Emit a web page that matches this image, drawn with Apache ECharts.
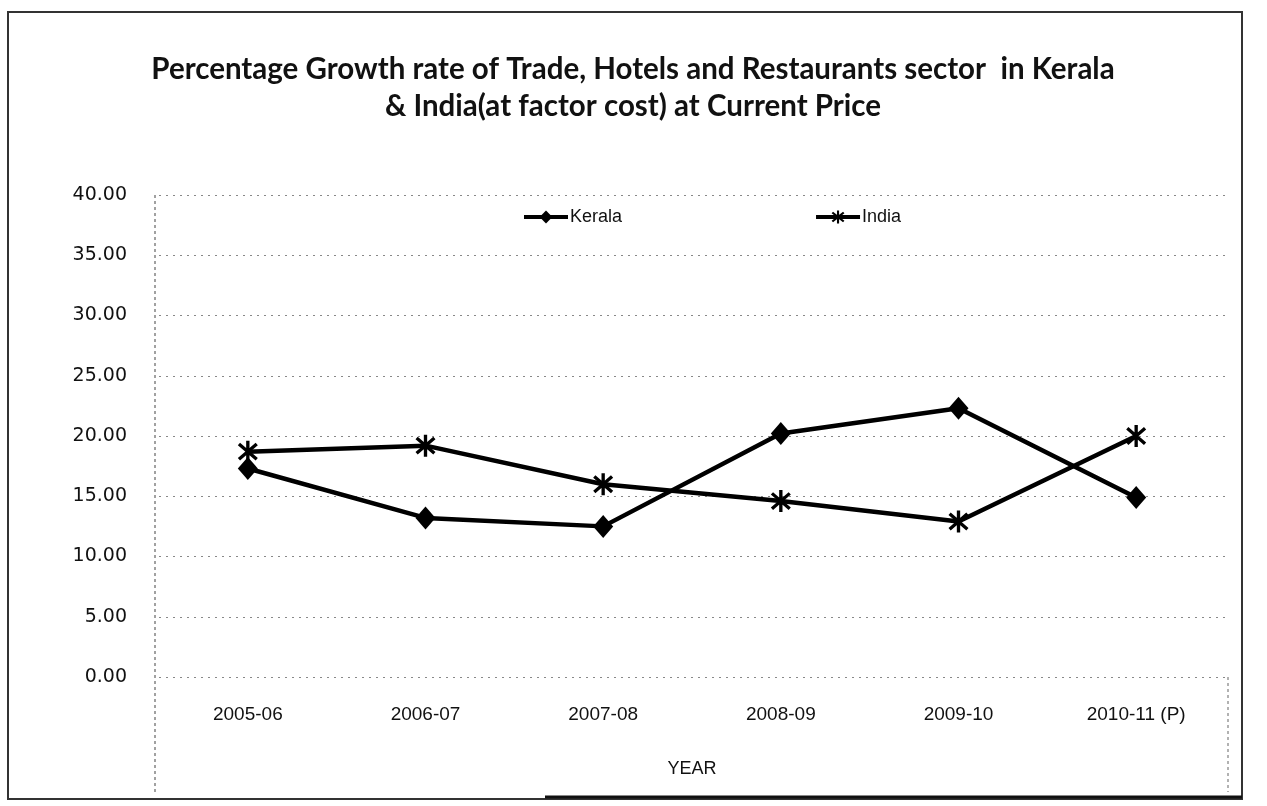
<!DOCTYPE html>
<html>
<head>
<meta charset="utf-8">
<script src="https://cdn.jsdelivr.net/npm/echarts@6/dist/echarts.min.js"></script>
<style>
html,body{margin:0;padding:0;background:#fff;}
#chart{width:1267px;height:806px;}
</style>
</head>
<body>
<div id="chart"></div>
<script>
var categories = ['2005-06', '2006-07', '2007-08', '2008-09', '2009-10', '2010-11 (P)'];
var keralaValues = [17.3, 13.2, 12.5, 20.2, 22.3, 14.9];
var indiaValues = [18.7, 19.2, 16.0, 14.6, 12.9, 20.0];
var titleLines = ['Percentage Growth rate of Trade, Hotels and Restaurants sector  in Kerala', '& India(at factor cost) at Current Price'];
var axisTitleX = 'YEAR';

var asterisk = 'path://M-1.5,-10L1.5,-10L1.5,10L-1.5,10Z' +
  'M-7.01,-8.13L8.99,5.87L7.01,8.13L-8.99,-5.87Z' +
  'M-8.99,5.87L7.01,-8.13L8.99,-5.87L-7.01,8.13Z';

var chart = echarts.init(document.getElementById('chart'), null, {renderer: 'canvas'});
chart.setOption({
  backgroundColor: '#ffffff',
  animation: false,
  title: {
    text: titleLines.join('\n'),
    left: 628,
    textAlign: 'center',
    top: 46,
    textStyle: {fontFamily: 'Lato', fontWeight: 'bold', fontSize: 29.5, lineHeight: 37, color: '#111'}
  },
  legend: {
    data: ['Kerala', 'India'],
    left: 517,
    top: 203,
    itemGap: 192,
    itemWidth: 44,
    itemHeight: 16,
    lineStyle: {width: 4},
    textStyle: {fontFamily: 'Liberation Sans', fontSize: 18, color: '#111', padding: [0, 0, 0, -3]}
  },
  grid: {left: 159, right: 42, top: 195, bottom: 129},
  xAxis: {
    type: 'category',
    data: categories,
    boundaryGap: true,
    name: axisTitleX,
    nameLocation: 'middle',
    nameGap: 83,
    nameTextStyle: {fontFamily: 'Liberation Sans', fontSize: 18, color: '#111'},
    axisLine: {show: false},
    axisTick: {show: false},
    axisLabel: {margin: 28, fontFamily: 'Liberation Sans', fontSize: 19, color: '#111'},
    splitLine: {show: false}
  },
  yAxis: {
    type: 'value',
    min: 0,
    max: 40,
    interval: 5,
    axisLine: {show: false},
    axisTick: {show: false},
    axisLabel: {
      margin: 32,
      fontFamily: 'DejaVu Sans',
      fontSize: 19,
      color: '#111',
      formatter: function (v) { return v.toFixed(2); }
    },
    splitLine: {show: true, lineStyle: {type: [2, 5], color: '#888', width: 1}}
  },
  series: [
    {
      name: 'Kerala',
      type: 'line',
      data: keralaValues,
      symbol: 'diamond',
      symbolSize: [20, 23],
      lineStyle: {color: '#000', width: 4.5},
      itemStyle: {color: '#000'}
    },
    {
      name: 'India',
      type: 'line',
      data: indiaValues,
      symbol: asterisk,
      symbolSize: [20, 22],
      lineStyle: {color: '#000', width: 4.5},
      itemStyle: {color: '#000'}
    }
  ],
  graphic: [
    {type: 'rect', shape: {x: 8, y: 12, width: 1234, height: 787}, style: {fill: 'none', stroke: '#333', lineWidth: 2}, silent: true},
    {type: 'line', shape: {x1: 155, y1: 195, x2: 155, y2: 792}, style: {stroke: '#444', lineWidth: 1, lineDash: [3, 3]}, silent: true},
    {type: 'line', shape: {x1: 1228, y1: 677, x2: 1228, y2: 792}, style: {stroke: '#666', lineWidth: 1, lineDash: [3, 3]}, silent: true},
    {type: 'line', shape: {x1: 545, y1: 797, x2: 1242, y2: 797}, style: {stroke: '#111', lineWidth: 3}, silent: true}
  ]
});
</script>
</body>
</html>
